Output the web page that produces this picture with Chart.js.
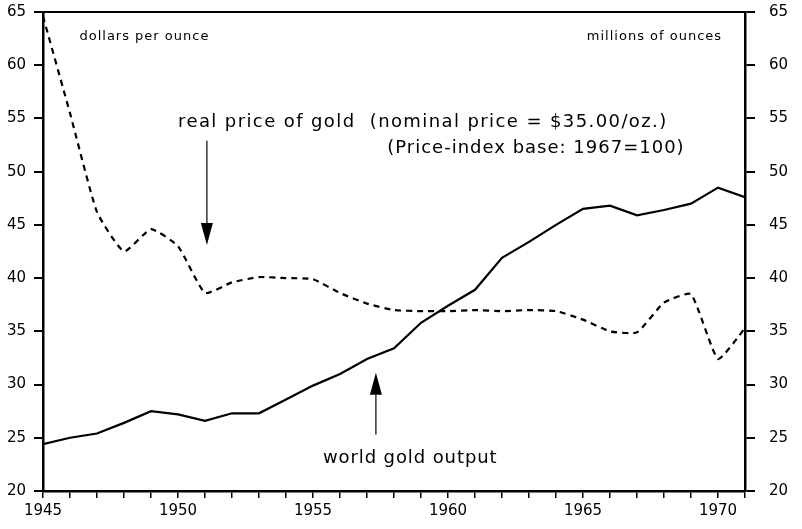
<!DOCTYPE html>
<html>
<head>
<meta charset="utf-8">
<script src="https://cdn.jsdelivr.net/npm/chart.js@4.4.0/dist/chart.umd.min.js"></script>
<style>
  html, body { margin: 0; padding: 0; background: #fff; }
  #wrap { width: 802px; height: 529px; }
</style>
</head>
<body>
<div id="wrap"><canvas id="chart"></canvas></div>
<script>
// Données
const years = [1945, 1946, 1947, 1948, 1949, 1950, 1951, 1952, 1953, 1954, 1955, 1956, 1957, 1958,
               1959, 1960, 1961, 1962, 1963, 1964, 1965, 1966, 1967, 1968, 1969, 1970, 1971];
const realPrice = [64.6, 55.5, 46.2, 42.5, 44.6, 43.0, 38.6, 39.6, 40.1, 40.0, 39.9, 38.6, 37.6, 37.0,
                   36.9, 36.9, 37.0, 36.9, 37.0, 36.9, 36.1, 35.0, 34.9, 37.7, 38.5, 32.4, 35.3];
const goldOutput = [24.4, 25.0, 25.4, 26.4, 27.5, 27.2, 26.6, 27.3, 27.3, 28.6, 29.9, 31.0, 32.4, 33.4,
                    35.8, 37.4, 38.9, 41.9, 43.4, 45.0, 46.5, 46.8, 45.9, 46.4, 47.0, 48.5, 47.6];
const yTicks = [20, 25, 30, 35, 40, 45, 50, 55, 60, 65];

// Textes et flèches (en unités des données)
const labels = [
    { text: 'dollars per ounce', x: 1946.35, y: 62.7, size: 13, spacing: 1, align: 'left' },
    { text: 'millions of ounces', x: 1970.15, y: 62.7, size: 13, spacing: 1, align: 'right' },
    { text: 'real price of gold  (nominal price = $35.00/oz.)', x: 1950.0, y: 54.6, size: 18, spacing: 1.4, align: 'left' },
    { text: '(Price-index base: 1967=100)', x: 1957.75, y: 52.2, size: 18, spacing: 1.0, align: 'left' },
    { text: 'world gold output', x: 1958.6, y: 23.1, size: 18, spacing: 0.9, align: 'center' }
];
const arrows = [
    { x: 1951.07, from: 52.9, to: 43.1 },
    { x: 1957.33, from: 25.3, to: 31.1 }
];

const FONT = "'DejaVu Sans', sans-serif";

const annotate = {
    id: 'annotate',
    afterDatasetsDraw(chart) {
        const ctx = chart.ctx;
        const xs = chart.scales.x;
        const ys = chart.scales.y;
        ctx.save();
        ctx.fillStyle = '#000';
        ctx.strokeStyle = '#000';
        ctx.textBaseline = 'middle';
        labels.forEach(l => {
            ctx.font = l.size + 'px ' + FONT;
            ctx.letterSpacing = l.spacing + 'px';
            ctx.textAlign = l.align;
            ctx.fillText(l.text, xs.getPixelForValue(l.x), ys.getPixelForValue(l.y));
        });
        ctx.letterSpacing = '0px';
        arrows.forEach(a => {
            const px = xs.getPixelForValue(a.x);
            const y0 = ys.getPixelForValue(a.from);
            const y1 = ys.getPixelForValue(a.to);
            const dir = y1 > y0 ? 1 : -1;
            const headLen = 22, headW = 6;
            ctx.lineWidth = 1.2;
            ctx.beginPath();
            ctx.moveTo(px, y0);
            ctx.lineTo(px, y1 - dir * headLen);
            ctx.stroke();
            ctx.beginPath();
            ctx.moveTo(px, y1);
            ctx.lineTo(px - headW, y1 - dir * headLen);
            ctx.lineTo(px + headW, y1 - dir * headLen);
            ctx.closePath();
            ctx.fill();
        });
        ctx.restore();
    }
};

const tickFont = { family: FONT, size: 15 };

// Pas de marge ajoutée pour les étiquettes qui débordent
function fitY(width) {
    return s => { s.width = width; s.paddingTop = 0; s.paddingBottom = 0; };
}

new Chart(document.getElementById('chart').getContext('2d'), {
    type: 'line',
    data: {
        datasets: [
            {
                label: 'real price of gold',
                data: years.map((y, i) => ({ x: y, y: realPrice[i] })),
                borderColor: '#000',
                borderWidth: 2.2,
                borderDash: [6, 5],
                pointRadius: 0,
                fill: false,
                tension: 0.15,
                yAxisID: 'y'
            },
            {
                label: 'world gold output',
                data: years.map((y, i) => ({ x: y, y: goldOutput[i] })),
                borderColor: '#000',
                borderWidth: 2.2,
                pointRadius: 0,
                fill: false,
                tension: 0,
                yAxisID: 'y2'
            }
        ]
    },
    options: {
        responsive: true,
        maintainAspectRatio: false,
        animation: false,
        layout: { padding: 0 },
        plugins: { legend: { display: false }, tooltip: { enabled: false } },
        scales: {
            x: {
                type: 'linear',
                position: 'bottom',
                min: 1945,
                max: 1971,
                afterBuildTicks: s => { s.ticks = years.map(v => ({ value: v })); },
                afterFit: s => { s.height = 38; s.paddingLeft = 0; s.paddingRight = 0; },
                ticks: {
                    font: tickFont,
                    color: '#000',
                    padding: 4,
                    maxRotation: 0,
                    autoSkip: false,
                    callback: v => (v % 5 === 0 ? String(v) : '')
                },
                grid: { drawOnChartArea: false, drawTicks: true, tickLength: 7, color: '#000', lineWidth: 1.5 },
                border: { display: true, color: '#000', width: 2.5 }
            },
            xTop: {
                type: 'linear',
                position: 'top',
                min: 1945,
                max: 1971,
                afterFit: s => { s.height = 12; },
                ticks: { display: false },
                grid: { display: false },
                border: { display: true, color: '#000', width: 2 }
            },
            y: {
                position: 'left',
                min: 20,
                max: 65,
                afterBuildTicks: s => { s.ticks = yTicks.map(v => ({ value: v })); },
                afterFit: fitY(43),
                ticks: { font: tickFont, color: '#000', padding: 8 },
                grid: { drawOnChartArea: false, drawTicks: true, tickLength: 9, color: '#000', lineWidth: 2 },
                border: { display: true, color: '#000', width: 2.5 }
            },
            y2: {
                position: 'right',
                min: 20,
                max: 65,
                afterBuildTicks: s => { s.ticks = yTicks.map(v => ({ value: v })); },
                afterFit: fitY(57),
                ticks: { font: tickFont, color: '#000', padding: 14 },
                grid: { drawOnChartArea: false, drawTicks: true, tickLength: 10, color: '#000', lineWidth: 2 },
                border: { display: true, color: '#000', width: 2.5 }
            }
        }
    },
    plugins: [annotate]
});
</script>
</body>
</html>
